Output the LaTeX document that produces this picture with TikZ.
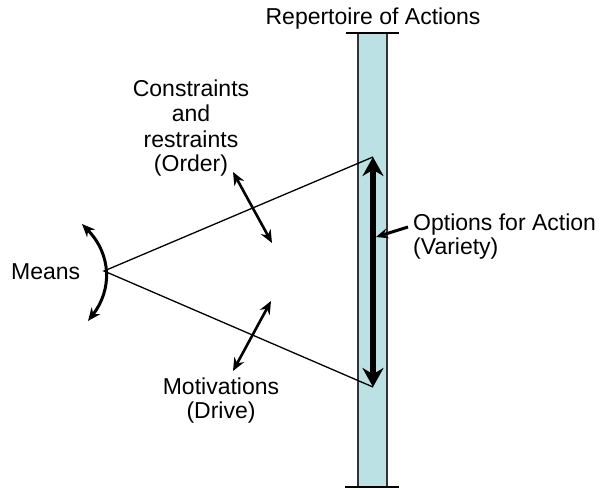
\documentclass[tikz,border=0pt]{standalone}
\usepackage{fontspec}
\setmainfont{Liberation Sans}
\usetikzlibrary{arrows.meta}
\begin{document}
\begin{tikzpicture}[x=1pt,y=-1pt,
  lbl/.style={font=\fontsize{23}{25}\selectfont, inner sep=0pt, anchor=base},
  thin line/.style={line width=1.3pt},
  twohead/.style={line width=2.6pt, {Stealth[length=13pt,width=11pt]}-{Stealth[length=13pt,width=11pt]}},
  bigarrow/.style={line width=5.5pt, {Stealth[length=19pt,width=21pt]}-{Stealth[length=19pt,width=21pt]}},
  pointer/.style={line width=3pt, -{Stealth[length=12pt,width=10pt]}},
  barfill/.style={fill=barblue, draw=black!80, line width=2pt}]
\definecolor{barblue}{HTML}{BCE1E4}
\useasboundingbox (0,0) rectangle (601,489);

% repertoire bar with its end caps
\filldraw[barfill] (358,33) rectangle (387,487);
\coordinate (capTL) at (346,33);
\coordinate (capTR) at (399,33);
\coordinate (capBL) at (345,487);
\coordinate (capBR) at (399,487);
\draw[line width=2pt] (capTL) -- (capTR);
\draw[line width=2pt] (capBL) -- (capBR);

% apex and the two ends of the range
\coordinate (apex) at (104,271);
\coordinate (hi) at (373,157);
\coordinate (lo) at (373,387);
\draw[thin line] (hi) -- (apex) -- (lo);

% range of options
\draw[bigarrow] (hi) -- (lo);

% means arc
\coordinate (mA) at (82,224);
\coordinate (mB) at (88,321);
\draw[line width=3pt, {Stealth[length=13pt,width=11pt]}-{Stealth[length=13pt,width=11pt]}]
  (mA) .. controls (112,255) and (112,290) .. (mB);

% order and drive arrows
\coordinate (oA) at (233,172);
\coordinate (oB) at (272,243);
\draw[twohead] (oA) -- (oB);
\coordinate (dA) at (271,301);
\coordinate (dB) at (233,371);
\draw[twohead] (dA) -- (dB);

% pointer to the range
\coordinate (pS) at (408,227);
\coordinate (pE) at (376,237);
\draw[pointer] (pS) -- (pE);

% labels
\node[lbl] (rep) at (373,25) {Repertoire of Actions};
\node[lbl, anchor=base west] (means) at (11,279) {Means};
\node[lbl] (c1) at (191,97) {Constraints};
\node[lbl] (c2) at (191,122) {and};
\node[lbl] (c3) at (191,147) {restraints};
\node[lbl] (c4) at (191,171) {(Order)};
\node[lbl, anchor=base west] (opt1) at (413,230) {Options for Action};
\node[lbl, anchor=base west] (opt2) at (413,254) {(Variety)};
\node[lbl] (mot1) at (221,394) {Motivations};
\node[lbl] (mot2) at (221,418) {(Drive)};
\end{tikzpicture}
\end{document}
